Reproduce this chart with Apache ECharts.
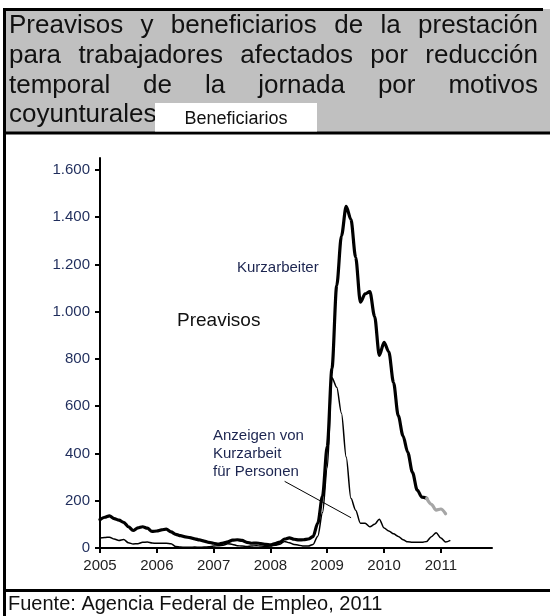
<!DOCTYPE html>
<html><head><meta charset="utf-8">
<script src="https://cdn.jsdelivr.net/npm/echarts@6/dist/echarts.min.js"></script>
<style>html,body{margin:0;padding:0;background:#fff}#c{width:550px;height:616px}</style>
</head><body><div id="c"></div>
<script>
// ---- data (monthly, starting January 2005) ----
const startYear = 2005;
// Kurzarbeiter (beneficiarios), Jan 2005 – Oct 2010, in thousands
const kurzarbeiter = [
  120,130,136,124,118,108,90,74,85,90,84,70,
  72,77,80,68,58,52,47,44,39,34,29,24,
  20,16,21,26,33,35,32,24,20,21,19,15,
  13,19,25,38,43,37,34,35,38,48,105,220,
  430,760,1110,1320,1445,1390,1230,1040,1075,1085,980,815,
  870,830,700,560,475,405,320,245,215,210
];
// Preliminary / estimated values (grey), Oct 2010 – Feb 2011
const kurzarbeiterPrelimStart = 69;
const kurzarbeiterPrelim = [210,185,160,165,145];
// Anzeigen von Kurzarbeit für Personen (preavisos), Jan 2005 – Mar 2011
const anzeigen = [
  42,44,46,38,32,36,22,17,18,24,25,21,
  20,20,20,18,6,4,3,3,4,3,4,5,
  8,10,12,18,15,10,8,6,8,10,8,6,
  8,12,16,28,22,15,12,8,8,15,50,150,
  340,720,680,570,385,210,160,105,105,90,100,122,
  85,72,60,49,35,26,24,24,24,28,48,65,
  42,25,32
];
const yearTicks = [2005,2006,2007,2008,2009,2010,2011];
const valueTicks = [0,200,400,600,800,1000,1200,1400,1600];
const leaderFrom = [2008.25, 282];
const leaderTo = [2009.42, 128];

const titleLines = [
  'Preavisos y beneficiarios de la prestación',
  'para trabajadores afectados por reducción',
  'temporal de la jornada por motivos',
  'coyunturales'
];
const boxLabel = 'Beneficiarios';
const sourceText = 'Fuente: Agencia Federal de Empleo, 2011';
const labelKurz = 'Kurzarbeiter';
const labelPre = 'Preavisos';
const labelAnz = ['Anzeigen von', 'Kurzarbeit', 'für Personen'];

// ---- build ----
const toSeries = (arr, offset) => arr.map((v, i) => [startYear + (offset + i) / 12, v]);
const fmtThousands = v => String(v).replace(/\B(?=(\d{3})+(?!\d))/g, '.');

const FONT = '"Liberation Sans", Arial, Helvetica, sans-serif';
const titleSize = 26;
const ctx = document.createElement('canvas').getContext('2d');
ctx.font = titleSize + 'px ' + FONT;

const T = (text, x, y, size, fill, align, z) => ({type:'text', z: z || 5, style:{text, x, y, font: size + 'px ' + FONT, fill,
  align: align || 'left', verticalAlign:'middle', textAlign: align || 'left', textVerticalAlign:'middle'}});

const graphics = [];
// title background
graphics.push({type:'rect', z:0, shape:{x:4, y:9, width:560, height:124}, style:{fill:'#c0c0c0'}});
// borders
graphics.push({type:'line', z:1, shape:{x1:3, y1:9.5, x2:543, y2:9.5}, style:{stroke:'#000', lineWidth:3}});
graphics.push({type:'line', z:1, shape:{x1:4.5, y1:8, x2:4.5, y2:616}, style:{stroke:'#000', lineWidth:3}});
graphics.push({type:'line', z:1, shape:{x1:3, y1:133, x2:550, y2:133}, style:{stroke:'#000', lineWidth:3}});
graphics.push({type:'line', z:1, shape:{x1:3, y1:590.5, x2:550, y2:590.5}, style:{stroke:'#000', lineWidth:3}});

// title text, justified
const tx0 = 9, tx1 = 538;
const lineY = [26, 56, 86, 115];
titleLines.forEach((line, li) => {
  const words = line.split(' ');
  const widths = words.map(w => ctx.measureText(w).width);
  const total = widths.reduce((a, b) => a + b, 0);
  const last = li === titleLines.length - 1;
  const gap = (!last && words.length > 1) ? (tx1 - tx0 - total) / (words.length - 1) : ctx.measureText(' ').width;
  let x = tx0;
  words.forEach((w, wi) => {
    graphics.push(T(w, x, lineY[li], titleSize, '#111', 'left'));
    x += widths[wi] + gap;
  });
});
// Beneficiarios box
graphics.push({type:'rect', z:6, shape:{x:155, y:103, width:162, height:28.5}, style:{fill:'#fff'}});
graphics.push(T(boxLabel, 236, 119, 18, '#111', 'center', 7));
// source
graphics.push(T(sourceText, 8, 604, 20, '#111', 'left'));
// annotations
graphics.push(T(labelKurz, 237, 268, 15, '#1c2550', 'left'));
graphics.push(T(labelPre, 177, 321, 19, '#111', 'left'));
labelAnz.forEach((t, i) => graphics.push(T(t, 213, 436 + i * 18, 15, '#1c2550', 'left')));

const chart = echarts.init(document.getElementById('c'), null, {renderer:'canvas'});
chart.setOption({
  animation: false,
  backgroundColor: '#fff',
  textStyle: {fontFamily: FONT},
  grid: {left:100, right:58, top:158, bottom:68, containLabel:false},
  xAxis: {
    type:'value', min:2005, max:2011.9, interval:1,
    axisLine:{show:true, onZero:false, lineStyle:{color:'#000', width:2}},
    axisTick:{show:true, inside:false, length:5, lineStyle:{color:'#000', width:2}, customValues: yearTicks},
    axisLabel:{color:'#222', fontSize:15, margin:10, customValues: yearTicks,
      formatter: v => (Number.isInteger(v) ? String(v) : '')},
    splitLine:{show:false}
  },
  yAxis: {
    type:'value', min:0, max:1650, interval:200,
    axisLine:{show:true, lineStyle:{color:'#000', width:2}},
    axisTick:{show:true, inside:false, length:5, lineStyle:{color:'#000', width:2}, customValues: valueTicks},
    axisLabel:{color:'#1f2d5c', fontSize:15, margin:10, customValues: valueTicks,
      formatter: v => (v % 200 === 0 ? fmtThousands(v) : '')},
    splitLine:{show:false}
  },
  series: [
    {type:'line', name:'Kurzarbeiter', data: toSeries(kurzarbeiter, 0), showSymbol:false, symbol:'none',
      smooth:0.3, smoothMonotone:'x', lineStyle:{color:'#000', width:3.2, join:'round', cap:'round'}, z:3},
    {type:'line', name:'Kurzarbeiter (prelim.)', data: toSeries(kurzarbeiterPrelim, kurzarbeiterPrelimStart), showSymbol:false, symbol:'none',
      smooth:0.3, smoothMonotone:'x', lineStyle:{color:'#a6a6a6', width:3.2, join:'round', cap:'round'}, z:3},
    {type:'line', name:'Anzeigen', data: toSeries(anzeigen, 0), showSymbol:false, symbol:'none',
      smooth:0.3, smoothMonotone:'x', lineStyle:{color:'#000', width:1.5, join:'round'}, z:4,
      markLine:{silent:true, symbol:['none','none'], label:{show:false}, animation:false,
        lineStyle:{color:'#000', width:1, type:'solid'},
        data:[[{coord:leaderFrom},{coord:leaderTo}]]}}
  ],
  graphic: {elements: graphics}
});
</script></body></html>
